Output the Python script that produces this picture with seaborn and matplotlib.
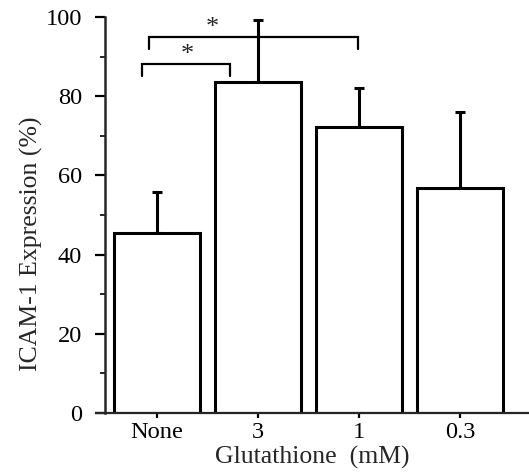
import numpy as np
import matplotlib
matplotlib.use("Agg")
import matplotlib.pyplot as plt
import seaborn as sns
from matplotlib.ticker import MultipleLocator

# data
categories = ["None", "3", "1", "0.3"]
expression = [45.4, 83.5, 72.3, 56.9]
sem_upper = [10.5, 15.8, 9.7, 19.0]

# significance brackets: (left x, right x, height, leg drop)
brackets = [(-0.15, 0.72, 88.1, 3.0), (-0.08, 1.99, 94.9, 3.0)]
star_pos = [(0.30, 88.9), (0.55, 95.7)]

sns.set_style("ticks")
plt.rcParams['font.family'] = ['Liberation Serif', 'DejaVu Serif']

fig = plt.figure(figsize=(5.29, 4.76), dpi=100)
ax = fig.add_axes([96 / 529, 1 - 413 / 476, 433 / 529, 396 / 476])

sns.barplot(x=categories, y=expression, color="white", edgecolor="black",
            linewidth=2.2, width=0.86, ax=ax, errorbar=None, saturation=1)

ax.errorbar(np.arange(len(categories)), expression,
            yerr=[np.zeros(len(sem_upper)), sem_upper],
            fmt="none", ecolor="black", elinewidth=2.2, capsize=3.6,
            capthick=2.2, zorder=0.5)

for x0, x1, h, d in brackets:
    ax.plot([x0, x0, x1, x1], [h - d, h, h, h - d], color="black", lw=1.6,
            solid_joinstyle="miter", clip_on=False)
for sx, sy in star_pos:
    ax.text(sx, sy, "*", ha="center", va="baseline", fontsize=19)

ax.set_xlim(-0.604, 3.683)
ax.set_ylim(0, 100)
ax.yaxis.set_major_locator(MultipleLocator(20))
ax.yaxis.set_minor_locator(MultipleLocator(10))

for s in ["top", "right"]:
    ax.spines[s].set_visible(False)
ax.spines["left"].set_position(("data", -0.51))
ax.spines["left"].set_linewidth(1.8)
ax.spines["bottom"].set_linewidth(1.6)

ax.tick_params(axis="y", which="major", length=7, width=1.6, pad=10,
               labelsize=17.6, colors="black")
ax.tick_params(axis="y", which="minor", length=3.6, width=1.4)
ax.tick_params(axis="x", which="major", length=3.6, width=1.6, pad=3,
               labelsize=17.6, colors="black")

ax.set_ylabel("ICAM-1 Expression (%)", fontsize=18.5, labelpad=1.5)
ax.yaxis.label.set_y(0.427)
ax.set_xlabel("Glutathione  (mM)", fontsize=18.5, labelpad=2)

fig.savefig("out.png", dpi=100)
